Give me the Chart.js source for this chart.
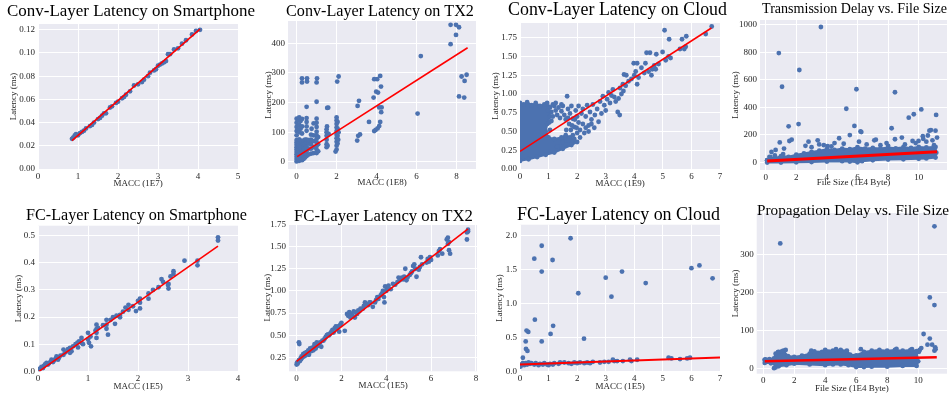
<!DOCTYPE html>
<html>
<head>
<meta charset="utf-8">
<script src="https://cdn.jsdelivr.net/npm/chart.js"></script>
<style>
  body { margin: 0; background: #fff; width: 951px; height: 396px; position: relative; overflow: hidden; }
  canvas { position: absolute; }
</style>
</head>
<body>
<script>
// ---- data ----

// Conv-Layer Latency on Smartphone (MACC 1E7 vs ms)
const convPhonePoints = [
  [0.85,0.026],[0.88,0.027],[0.92,0.029],[0.95,0.030],[1.0,0.029],[1.05,0.031],[1.1,0.032],[1.15,0.033],
  [1.2,0.035],[1.3,0.037],[1.35,0.038],[1.4,0.040],[1.5,0.043],[1.55,0.044],[1.6,0.046],[1.65,0.048],
  [1.7,0.048],[1.8,0.053],[1.85,0.054],[1.95,0.057],[2.0,0.058],[2.1,0.061],[2.15,0.062],[2.2,0.064],
  [2.3,0.067],[2.4,0.072],[2.5,0.073],[2.6,0.075],[2.65,0.077],[2.75,0.080],[2.8,0.083],[2.9,0.085],
  [2.95,0.086],[3.0,0.089],[3.05,0.090],[3.1,0.091],[3.15,0.092],[3.2,0.093],[3.25,0.099],[3.3,0.099],
  [3.4,0.103],[3.5,0.104],[3.6,0.108],[3.7,0.111],[3.85,0.116],[3.95,0.119],[4.05,0.120]
];
const convPhoneFit = [[0.85,0.0245],[4.05,0.1205]];

// Conv-Layer Latency on TX2 (MACC 1E8 vs ms)
const convTx2Points = [
  [0,2],[0,10],[0,18],[0,26],[0,34],[0,42],[0,50],[0,58],[0,66],[0,74],[0,90],[0,104],[0,118],[0,132],[0,146],
  [0.06,6],[0.06,14],[0.06,22],[0.06,30],[0.06,38],[0.06,46],[0.06,54],[0.06,62],[0.06,70],[0.06,110],[0.06,140],
  [0.13,4],[0.13,12],[0.13,20],[0.13,28],[0.13,36],[0.13,44],[0.13,52],[0.13,60],[0.13,68],[0.13,76],[0.13,100],[0.13,125],[0.13,150],
  [0.2,8],[0.2,16],[0.2,24],[0.2,32],[0.2,40],[0.2,48],[0.2,56],[0.2,64],[0.2,72],[0.2,112],[0.2,138],
  [0.27,6],[0.27,14],[0.27,22],[0.27,30],[0.27,38],[0.27,46],[0.27,54],[0.27,62],[0.27,70],[0.27,96],[0.27,120],[0.27,145],[0.27,268],[0.27,282],
  [0.35,10],[0.35,20],[0.35,30],[0.35,40],[0.35,50],[0.35,60],[0.35,72],
  [0.42,15],[0.42,30],[0.42,45],[0.42,60],[0.42,75],
  [0.5,20],[0.5,35],[0.5,50],[0.5,65],[0.5,75],[0.5,105],[0.5,120],[0.5,135],[0.5,148],[0.5,186],[0.52,271],[0.52,282],
  [0.6,25],[0.6,45],[0.6,62],[0.6,74],
  [0.72,28],[0.72,45],[0.72,60],[0.72,75],[0.72,92],[0.75,112],
  [0.85,30],[0.85,50],[0.85,70],[0.85,90],[0.85,130],
  [1,30],[1,42],[1,54],[1,66],[1,78],[1,90],[1,102],[1,118],[1,132],[1,146],[1,203],[1,268],[1.02,282],
  [1.08,36],[1.08,60],[1.08,84],
  [1.5,50],[1.5,60],[1.5,75],[1.5,88],[1.5,100],[1.5,110],[1.52,120],[1.53,182],[1.58,183],[1.55,55],[1.6,95],
  [1.95,35],[2,42],[2,55],[2,68],[2,80],[2,92],[2,104],[2,116],[2,128],[2,140],[2,150],
  [2.05,62],[2.05,88],[2.05,112],[2.05,135],[2.08,75],[2.1,100],[2.03,271],[2.1,288],
  [3.05,189],[3.12,206],[3.03,72],[3.08,88],[3.17,93],
  [3.62,135],[3.85,217],[3.88,279],[4.03,279],[4.18,290],[4.22,254],[3.98,237],[4.07,234],[4.13,184],
  [4.25,184],[4.23,168],[4.18,135],[4.13,121],[4.05,113],[3.95,108],[3.88,104],
  [6.05,163],[6.21,357],[7.7,462],[7.97,462],[8.12,454],[7.97,428],[7.7,397],
  [8.25,288],[8.5,294],[8.4,273],[8.12,221],[8.38,217]
];
const convTx2Fit = [[0.03,18],[8.55,385]];

// Conv-Layer Latency on Cloud (MACC 1E9 vs ms)
const convCloudCloud = [
  [0,0.11],[0,0.88],[0.12,0.86],[0.25,0.89],[0.4,0.85],[0.55,0.88],[0.7,0.84],[0.85,0.86],[1.0,0.83],
  [1.05,0.7],[0.95,0.6],[0.9,0.5],[1.0,0.42],[1.2,0.4],[1.45,0.42],[1.6,0.45],[1.75,0.42],[1.9,0.4],
  [2.0,0.36],[1.8,0.32],[1.5,0.27],[1.2,0.22],[0.9,0.19],[0.6,0.16],[0.3,0.13],[0,0.11]
];
const convCloudPoints = [
  [1.05,0.82],[1.1,0.76],[1.15,0.7],[1.1,0.64],[1.2,0.84],[1.25,0.78],[1.3,0.72],[1.35,0.82],[1.4,0.68],
  [1.45,0.77],[1.5,0.84],[1.55,0.72],[1.6,0.66],[1.65,0.97],[1.68,0.8],[1.72,0.6],[1.75,0.74],[1.8,0.84],
  [1.85,0.67],[1.9,0.56],[1.95,0.78],[2.0,0.7],[2.05,0.62],[2.05,0.84],[2.1,0.52],[2.15,0.74],[2.2,0.8],
  [2.2,0.6],[2.25,0.48],[2.3,0.7],[2.35,0.85],[2.4,0.58],[2.45,0.76],[2.5,0.66],[2.55,0.86],[2.6,0.55],
  [2.62,0.72],[2.7,0.8],[2.75,0.63],[2.8,0.9],[2.85,0.74],[2.9,0.97],[2.95,0.85],[3.0,0.78],[3.05,0.93],
  [3.1,1.02],[3.15,0.88],[3.2,0.98],[3.25,1.06],[3.3,0.96],[3.35,0.9],[3.42,0.76],[3.49,0.72],[3.45,0.94],
  [3.5,1.08],[3.55,1.0],[3.6,1.13],[3.62,1.04],[3.64,1.26],[3.72,1.25],[3.7,1.11],[3.8,1.17],[3.9,1.2],
  [3.98,1.41],[4.0,1.25],[4.05,1.3],[4.1,1.41],[4.1,1.13],[4.15,1.22],[4.25,1.35],[4.35,1.28],[4.39,1.41],
  [4.43,1.55],[4.5,1.3],[4.55,1.55],[4.6,1.25],[4.63,1.33],[4.7,1.38],[4.75,1.33],[4.77,1.53],[4.85,1.4],
  [4.99,1.56],[5.06,1.85],[5.1,1.45],[5.2,1.5],[5.22,1.73],[5.27,1.48],[5.6,1.6],[5.67,1.73],[5.75,1.6],
  [5.8,1.63],[5.82,1.77],[6.5,1.8],[6.71,1.9],
  [1.3,0.3],[1.5,0.36],[1.7,0.38],[1.85,0.45],[2.0,0.48],[2.1,0.42],[2.3,0.55],[2.4,0.5],[2.5,0.6],
  [0.98,0.78],[1.02,0.62],[1.05,0.52],[1.62,0.52],[1.68,0.68],[1.78,0.52],[1.82,0.58],[1.92,0.66],
  [1.98,0.55],[0.95,0.88],[1.15,0.86],[1.25,0.88],[1.45,0.86]
];
const convCloudFit = [[0,0.235],[6.7,1.88]];

// Transmission Delay vs. File Size (1E4 Byte vs ms)
const transCloud = [
  [0.1,15],[0.3,35],[0.6,30],[1.0,45],[1.5,40],[2.0,55],[2.5,65],[3.0,75],[3.5,85],[4.0,95],[4.5,90],
  [5.0,100],[5.5,95],[6.0,110],[6.5,100],[7.0,105],[7.5,100],[8.0,108],[8.5,102],[9.0,110],[9.5,105],
  [10.0,112],[10.5,108],[11.1,112],[11.15,70],[11.1,35],[10.5,28],[10.0,25],[9.0,22],[8.0,20],[7.0,15],
  [6.3,8],[6.0,0],[5.5,5],[5.0,8],[4.0,5],[3.0,2],[2.0,0],[1.0,-2],[0.1,-2],[0.1,15]
];
const transPoints = [
  [3.61,985],[0.86,795],[2.2,672],[1.07,550],[5.93,532],[8.45,510],[5.27,390],[10.17,385],[9.68,350],
  [9.35,325],[11.14,345],[1.5,262],[2.15,278],[5.8,265],[8.23,248],[6.2,225],[6.25,220],[10.8,235],
  [10.7,230],[11.1,230],[5.5,198],[8.9,180],[10.27,190],[9.99,155],[11.2,180],[3.4,160],[3.5,130],
  [1.7,165],[1.55,155],[0.92,145],[0.65,90],[1.2,100],[7.2,165],[7.1,160],[8.45,168],[9.6,155],
  [4.8,175],[4.5,140],[4.05,118],[1.14,60],[0.6,50],[0.38,75],[0.3,38],[0.25,40],[2.6,120],[3.0,110],
  [3.8,125],[4.3,115],[6.6,130],[7.5,125],[8.0,120],[9.1,130],[9.8,140],[10.5,150],[10.9,160],
  [11.0,125],[10.6,195],[10.3,170],[2.8,150],[6.1,150],[5.1,135],[7.9,140]
];
const transFit = [[0.1,10],[11.2,77]];

// FC-Layer Latency on Smartphone (MACC 1E5 vs ms)
const fcPhonePoints = [
  [0.02,0.005],[0.04,0.01],[0.07,0.016],[0.1,0.012],[0.12,0.02],[0.14,0.025],[0.17,0.031],[0.2,0.025],
  [0.22,0.03],[0.25,0.035],[0.27,0.043],[0.3,0.034],[0.32,0.04],[0.35,0.046],[0.37,0.055],[0.4,0.043],
  [0.42,0.05],[0.45,0.058],[0.51,0.08],[0.51,0.061],[0.55,0.07],[0.6,0.082],[0.64,0.086],[0.64,0.068],
  [0.67,0.074],[0.7,0.092],[0.75,0.1],[0.79,0.106],[0.8,0.088],[0.82,0.11],[0.87,0.123],[0.87,0.105],
  [0.9,0.1],[1.0,0.142],[1.0,0.117],[1.02,0.105],[1.06,0.092],[1.05,0.128],[1.15,0.15],[1.17,0.172],
  [1.17,0.155],[1.17,0.142],[1.17,0.123],[1.2,0.16],[1.3,0.17],[1.37,0.19],[1.37,0.172],[1.37,0.157],
  [1.4,0.135],[1.45,0.19],[1.5,0.2],[1.54,0.175],[1.57,0.205],[1.64,0.208],[1.64,0.199],[1.7,0.22],
  [1.75,0.235],[1.81,0.245],[1.81,0.227],[1.9,0.24],[1.96,0.222],[2.0,0.26],[2.04,0.268],[2.04,0.253],
  [2.04,0.232],[2.21,0.287],[2.21,0.268],[2.3,0.3],[2.41,0.31],[2.47,0.34],[2.5,0.33],[2.61,0.322],
  [2.61,0.305],[2.6,0.318],[2.65,0.35],[2.71,0.369],[2.71,0.359],[2.93,0.408],[3.19,0.408],[3.19,0.391],
  [3.6,0.494],[3.6,0.482]
];
const fcPhoneFit = [[0.02,0.0],[3.6,0.462]];

// FC-Layer Latency on TX2 (MACC 1E5 vs ms)
const fcTx2Points = [
  [0,0.17],[0.02,0.19],[0.05,0.18],[0.08,0.2],[0.1,0.22],[0.1,0.42],[0.12,0.4],[0.15,0.21],[0.18,0.24],
  [0.2,0.23],[0.22,0.26],[0.25,0.25],[0.28,0.27],[0.3,0.29],[0.32,0.26],[0.35,0.28],[0.38,0.3],[0.4,0.27],
  [0.45,0.31],[0.5,0.29],[0.52,0.33],[0.55,0.28],[0.6,0.35],[0.65,0.32],[0.7,0.36],[0.75,0.33],[0.8,0.38],
  [0.8,0.4],[0.85,0.35],[0.9,0.42],[0.95,0.38],[1.0,0.4],[1.05,0.42],[1.1,0.37],[1.15,0.44],[1.2,0.44],
  [1.25,0.46],[1.3,0.48],[1.35,0.5],[1.4,0.51],[1.45,0.5],[1.5,0.52],[1.55,0.54],[1.6,0.56],[1.65,0.53],
  [1.7,0.58],[1.75,0.6],[1.8,0.57],[1.85,0.6],[1.9,0.54],[1.95,0.62],[2.0,0.64],[2.15,0.55],[2.25,0.74],
  [2.3,0.72],[2.35,0.76],[2.4,0.7],[2.45,0.74],[2.5,0.72],[2.55,0.77],[2.6,0.7],[2.65,0.76],[2.7,0.74],
  [2.75,0.78],[2.8,0.77],[2.85,0.8],[2.95,0.8],[3.0,0.83],[3.05,0.87],[3.1,0.85],[3.2,0.84],[3.25,0.87],
  [3.3,0.87],[3.4,0.82],[3.5,0.87],[3.55,0.9],[3.6,0.93],[3.65,0.91],[3.75,0.95],[3.8,0.97],[3.85,1.0],
  [3.9,0.93],[3.92,0.87],[3.95,1.05],[4.0,1.0],[4.05,1.03],[4.1,1.06],[4.2,1.02],[4.3,1.08],[4.4,1.07],
  [4.5,1.1],[4.55,1.15],[4.6,1.12],[4.7,1.15],[4.75,1.13],[4.8,1.16],[4.85,1.25],[4.9,1.12],[4.95,1.15],
  [5.05,1.18],[5.1,1.2],[5.15,1.22],[5.2,1.28],[5.25,1.3],[5.3,1.25],[5.35,1.16],[5.45,1.24],[5.5,1.27],
  [5.55,1.38],[5.6,1.3],[5.8,1.32],[5.85,1.36],[5.9,1.33],[5.95,1.38],[6.0,1.35],[6.3,1.4],[6.35,1.45],
  [6.4,1.47],[6.5,1.42],[6.7,1.58],[6.75,1.6],[6.8,1.55],[6.8,1.46],[6.85,1.42],[6.75,1.53],[7.6,1.58],
  [7.6,1.66],[7.65,1.69],[7.65,1.67]
];
const fcTx2Fit = [[0,0.205],[7.65,1.70]];

// FC-Layer Latency on Cloud (MACC 1E5 vs ms)
const fcCloudPoints = [
  [0.02,0.07],[0.05,0.1],[0.1,0.12],[0.15,0.09],[0.2,0.12],[0.25,0.1],[0.3,0.13],[0.35,0.11],[0.4,0.12],
  [0.5,0.1],[0.55,0.12],[0.65,0.09],[0.7,0.11],[0.8,0.1],[0.85,0.12],[0.95,0.1],[1.0,0.09],[1.05,0.11],
  [1.15,0.1],[1.2,0.12],[1.35,0.11],[1.4,0.13],[1.55,0.13],[1.7,0.12],[1.8,0.11],[1.9,0.13],[2.0,0.12],
  [2.1,0.13],[2.25,0.12],[2.35,0.13],[2.45,0.12],[2.55,0.14],[2.8,0.13],[2.95,0.14],[3.1,0.14],[3.25,0.17],
  [3.3,0.15],[3.4,0.15],[3.6,0.15],[3.85,0.17],[3.9,0.15],[4.1,0.17],[5.2,0.2],[5.3,0.19],[5.6,0.18],
  [5.85,0.19],[5.95,0.2],
  [1.77,1.96],[0.76,1.85],[0.5,1.66],[1.14,1.64],[0.76,1.47],[3.0,1.38],[3.57,1.47],[3.2,1.1],[2.04,1.15],
  [4.4,1.3],[6.0,1.52],[6.28,1.56],[6.74,1.37],[0.52,0.76],[1.16,0.67],[1.07,0.55],[0.76,0.44],[0.2,0.44],
  [2.24,0.48],[0.23,0.6],[0.29,0.58],[0.21,0.33],[0.26,0.3],[0.1,0.2]
];
const fcCloudFit = [[0,0.1],[7,0.205]];

// Propagation Delay vs. File Size (1E4 Byte vs ms)
const propCloud = [
  [0.1,24],[0.4,26],[0.7,28],[0.8,40],[1.0,45],[1.3,48],[1.6,34],[2.0,32],[2.5,35],[3.0,40],[3.3,46],
  [3.8,45],[4.0,50],[4.5,48],[5.0,50],[5.4,48],[5.6,38],[6.0,36],[6.5,45],[7.0,48],[7.5,50],[8.0,48],
  [8.5,50],[9.0,48],[9.5,50],[9.9,47],[10.0,20],[9.9,8],[9.0,8],[8.0,6],[7.0,6],[6.5,5],[6.0,5],
  [5.5,10],[5.0,12],[4.5,12],[4.0,10],[3.0,12],[2.0,14],[1.5,10],[1.0,7],[0.8,4],[0.75,14],[0.5,15],
  [0.1,16],[0.1,24]
];
const propPoints = [
  [1.1,330],[11.05,375],[10.75,188],[11.05,168],[10.35,92],[10.75,80],[10.6,64],[10.9,64],[11.1,57],
  [11.12,52],[11.05,48],[10.2,55],[10.1,50],[10.05,45],[1.45,50],[1.2,46],[0.95,44],[0.15,25],[0.3,22],
  [0.7,2],[6.3,52],[3.1,48],[4.7,52],[8.6,53],[9.6,52]
];
const propFit = [[0.1,20],[11.2,31]];

// ---- look ----
const SERIF = '"Liberation Serif", "Times New Roman", serif';
const BLUE = '#4c72b0';
const FIT_RED = '#ff0000';
const AXES_BG = '#eaeaf2';
const INK = '#262626';

function toXY(pairs) {
  return pairs.map(p => ({ x: p[0], y: p[1] }));
}

// Axes background and panel title (title is fitted to the width it takes in the figure)
const panelDecor = {
  id: 'panelDecor',
  beforeDraw(chart, args, opts) {
    const { ctx, chartArea: a } = chart;
    ctx.save();
    ctx.fillStyle = AXES_BG;
    ctx.fillRect(a.left, a.top, a.right - a.left, a.bottom - a.top);
    ctx.restore();
  },
  afterDraw(chart, args, opts) {
    const ctx = chart.ctx;
    ctx.save();
    ctx.font = '100px ' + SERIF;
    const w = ctx.measureText(opts.text).width;
    const size = 100 * (opts.span[1] - opts.span[0]) / w;
    ctx.font = size + 'px ' + SERIF;
    ctx.fillStyle = '#000';
    ctx.textAlign = 'center';
    ctx.textBaseline = 'alphabetic';
    ctx.fillText(opts.text, (opts.span[0] + opts.span[1]) / 2 - opts.origin[0], opts.baseline - opts.origin[1]);
    ctx.restore();
  }
};

function makePanel(p) {
  const [cl, ct, cr, cb] = p.box;
  const [pl, pt, pr, pb] = p.plot;
  const canvas = document.createElement('canvas');
  canvas.width = cr - cl;
  canvas.height = cb - ct;
  canvas.style.left = cl + 'px';
  canvas.style.top = ct + 'px';
  document.body.appendChild(canvas);

  const datasets = [
    { type: 'line', data: toXY(p.fit), borderColor: FIT_RED, borderWidth: p.fitWidth || 1.6,
      pointRadius: 0, fill: false, order: 0 },
    { data: toXY(p.points), backgroundColor: BLUE, borderWidth: 0, pointRadius: 2.4, order: 1 }
  ];
  if (p.cloud) {
    // dense part of the scatter, drawn as its outline with points on it
    datasets.push({ type: 'line', data: toXY(p.cloud), borderColor: BLUE, backgroundColor: BLUE,
      borderWidth: 2, pointRadius: 2.4, pointBackgroundColor: BLUE, pointBorderWidth: 0,
      fill: 'shape', tension: 0, order: 2 });
  }

  const tickFont = { family: SERIF, size: 9 };
  new Chart(canvas, {
    type: 'scatter',
    data: { datasets },
    options: {
      responsive: false,
      animation: false,
      devicePixelRatio: 1,
      events: [],
      layout: {
        padding: { left: pl - cl - p.yw, top: pt - ct, right: cr - pr, bottom: cb - pb - p.xh }
      },
      plugins: {
        legend: { display: false },
        tooltip: { enabled: false },
        panelDecor: { text: p.title, span: p.titleSpan, baseline: p.titleBase, origin: [cl, ct] }
      },
      scales: {
        x: {
          type: 'linear', min: p.xRange[0], max: p.xRange[1],
          afterFit: s => { s.height = p.xh; },
          afterBuildTicks: s => { s.ticks = p.xTicks.map(v => ({ value: v })); },
          grid: { color: '#ffffff', lineWidth: 1, drawTicks: false },
          border: { display: false },
          ticks: { padding: 2, color: INK, font: tickFont, autoSkip: false, maxRotation: 0,
                   callback: v => v.toFixed(p.xDec || 0) },
          title: { display: true, text: p.xLabel, color: INK, font: tickFont, padding: 0 }
        },
        y: {
          type: 'linear', min: p.yRange[0], max: p.yRange[1],
          afterFit: s => { s.width = p.yw; },
          afterBuildTicks: s => { s.ticks = p.yTicks.map(v => ({ value: v })); },
          grid: { color: '#ffffff', lineWidth: 1, drawTicks: false },
          border: { display: false },
          ticks: { padding: 3, color: INK, font: tickFont, autoSkip: false,
                   callback: v => v.toFixed(p.yDec || 0) },
          title: { display: true, text: 'Latency (ms)', color: INK, font: tickFont, padding: 0 }
        }
      }
    },
    plugins: [panelDecor]
  });
}

// ---- panels ----
makePanel({
  box: [0, 0, 258, 196], plot: [38, 24, 238, 169], yw: 30, xh: 19.7,
  title: 'Conv-Layer Latency on Smartphone', titleSpan: [7, 255], titleBase: 16,
  xLabel: 'MACC (1E7)', xRange: [0, 5], yRange: [0, 0.125],
  xTicks: [0, 1, 2, 3, 4, 5], yTicks: [0, 0.02, 0.04, 0.06, 0.08, 0.10, 0.12], yDec: 2,
  points: convPhonePoints, fit: convPhoneFit
});
makePanel({
  box: [258, 0, 490, 196], plot: [288, 21, 476, 169], yw: 25, xh: 19,
  title: 'Conv-Layer Latency on TX2', titleSpan: [286, 474], titleBase: 16,
  xLabel: 'MACC (1E8)', xRange: [-0.43, 8.97], yRange: [-23.6, 475],
  xTicks: [0, 2, 4, 6, 8], yTicks: [0, 100, 200, 300, 400],
  points: convTx2Points, fit: convTx2Fit
});
makePanel({
  box: [490, 0, 730, 196], plot: [520, 23, 720, 169], yw: 29.4, xh: 19.7,
  title: 'Conv-Layer Latency on Cloud', titleSpan: [508, 727], titleBase: 15,
  xLabel: 'MACC (1E9)', xRange: [0, 7], yRange: [0, 1.947],
  xTicks: [0, 1, 2, 3, 4, 5, 6, 7], yTicks: [0, 0.25, 0.5, 0.75, 1.0, 1.25, 1.5, 1.75], yDec: 2,
  points: convCloudPoints, cloud: convCloudCloud, fit: convCloudFit
});
makePanel({
  box: [730, 0, 951, 196], plot: [760, 20, 949, 170], yw: 29.4, xh: 18,
  title: 'Transmission Delay vs. File Size', titleSpan: [762, 947], titleBase: 12.7,
  xLabel: 'File Size (1E4 Byte)', xRange: [-0.37, 11.85], yRange: [-56, 1036],
  xTicks: [0, 2, 4, 6, 8, 10], yTicks: [0, 200, 400, 600, 800, 1000],
  points: transPoints, cloud: transCloud, fit: transFit, fitWidth: 3
});
makePanel({
  box: [0, 196, 258, 396], plot: [38, 225.7, 238, 371.3], yw: 24.4, xh: 21,
  title: 'FC-Layer Latency on Smartphone', titleSpan: [26, 247], titleBase: 220,
  xLabel: 'MACC (1E5)', xRange: [0, 4], yRange: [0, 0.537],
  xTicks: [0, 1, 2, 3, 4], yTicks: [0, 0.1, 0.2, 0.3, 0.4, 0.5], yDec: 1,
  points: fcPhonePoints, fit: fcPhoneFit
});
makePanel({
  box: [258, 196, 490, 396], plot: [289, 224, 477, 371.3], yw: 27, xh: 19.4,
  title: 'FC-Layer Latency on TX2', titleSpan: [294, 473], titleBase: 221,
  xLabel: 'MACC (1E5)', xRange: [-0.34, 8.05], yRange: [0.093, 1.755],
  xTicks: [0, 2, 4, 6, 8], yTicks: [0.25, 0.5, 0.75, 1.0, 1.25, 1.5, 1.75], yDec: 2,
  points: fcTx2Points, fit: fcTx2Fit
});
makePanel({
  box: [490, 196, 730, 396], plot: [520, 224.7, 720, 371.3], yw: 25.4, xh: 21,
  title: 'FC-Layer Latency on Cloud', titleSpan: [517, 720], titleBase: 219.7,
  xLabel: 'MACC (1E5)', xRange: [0, 7], yRange: [0, 2.16],
  xTicks: [0, 1, 2, 3, 4, 5, 6, 7], yTicks: [0, 0.5, 1.0, 1.5, 2.0], yDec: 1,
  points: fcCloudPoints, fit: fcCloudFit, fitWidth: 2
});
makePanel({
  box: [730, 196, 951, 396], plot: [756.7, 213, 949, 373.7], yw: 26.4, xh: 20.4,
  title: 'Propagation Delay vs. File Size', titleSpan: [757, 949], titleBase: 215.3,
  xLabel: 'File Size (1E4 Byte)', xRange: [-0.42, 11.86], yRange: [-12.4, 410],
  xTicks: [0, 2, 4, 6, 8, 10], yTicks: [0, 100, 200, 300],
  points: propPoints, cloud: propCloud, fit: propFit, fitWidth: 2.5
});
</script>
</body>
</html>
